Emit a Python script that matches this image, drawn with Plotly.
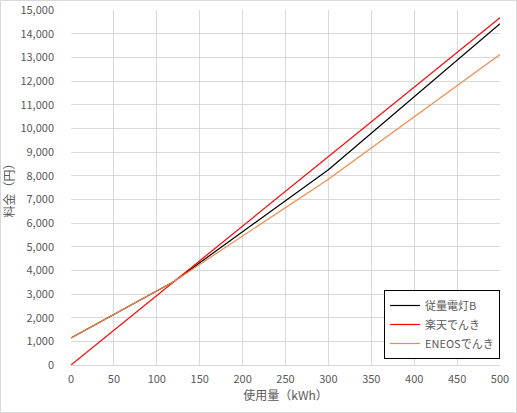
import plotly.graph_objects as go

usage = [0, 50, 100, 120, 150, 200, 250, 300, 350, 400, 450, 500]

juryo_b = [1144, 2130, 3130, 3530, 4320, 5630, 6940, 8250, 9790, 11330, 12870, 14420]
rakuten = [0, 1468, 2935, 3522, 4403, 5870, 7338, 8805, 10273, 11740, 13208, 14675]
eneos = [1144, 2130, 3130, 3530, 4250, 5450, 6650, 7850, 9170, 10480, 11800, 13115]

names = ["従量電灯B", "楽天でんき", "ENEOSでんき"]
colors = ["#000000", "#ff0000", "#f08a4b"]

W, H = 517, 413
L, R, T, B = 71, 17, 10, 48

fig = go.Figure()
for name, ys, c in zip(names, [juryo_b, rakuten, eneos], colors):
    fig.add_trace(go.Scatter(x=usage, y=ys, name=name, mode="lines",
                             line=dict(color=c, width=1.2)))

font = "Noto Sans CJK JP"
grid = "#d9d9d9"
pw, ph = W - L - R, H - T - B

fig.update_layout(
    width=W, height=H,
    margin=dict(l=L, r=R, t=T, b=B),
    paper_bgcolor="white", plot_bgcolor="white",
    font=dict(family=font, size=11, color="#595959"),
    legend=dict(x=(384 - L) / pw, y=(H - B - 290) / ph, xanchor="left", yanchor="top",
                bgcolor="white", bordercolor="black", borderwidth=1,
                font=dict(size=11, color="#595959"), tracegroupgap=0),
    # chart-area border
    shapes=[dict(type="rect", xref="paper", yref="paper",
                 x0=(0.5 - L) / pw, x1=(W - 0.5 - L) / pw,
                 y0=-(B - 0.5) / ph, y1=1 + (T - 0.5) / ph,
                 line=dict(color=grid, width=1))],
)
fig.update_xaxes(range=[0, 500], tick0=0, dtick=50, showgrid=True, gridcolor=grid,
                 zeroline=False, showline=True, linecolor=grid, mirror=False,
                 ticklabelstandoff=4, automargin=False,
                 title=dict(text="使用量（kWh）", font=dict(size=12, color="#595959"), standoff=6))
fig.update_yaxes(range=[0, 15000], tick0=0, dtick=1000, tickformat=",d",
                 showgrid=True, gridcolor=grid, zeroline=False, showline=False,
                 ticklabelstandoff=16, automargin=False,
                 title=dict(text="料金（円）", font=dict(size=12, color="#595959"), standoff=8))

# drop the default 8px body margin so the figure fills the window
fig.write_html("out.html", config={"displayModeBar": False},
               post_script="document.body.style.margin='0';")
